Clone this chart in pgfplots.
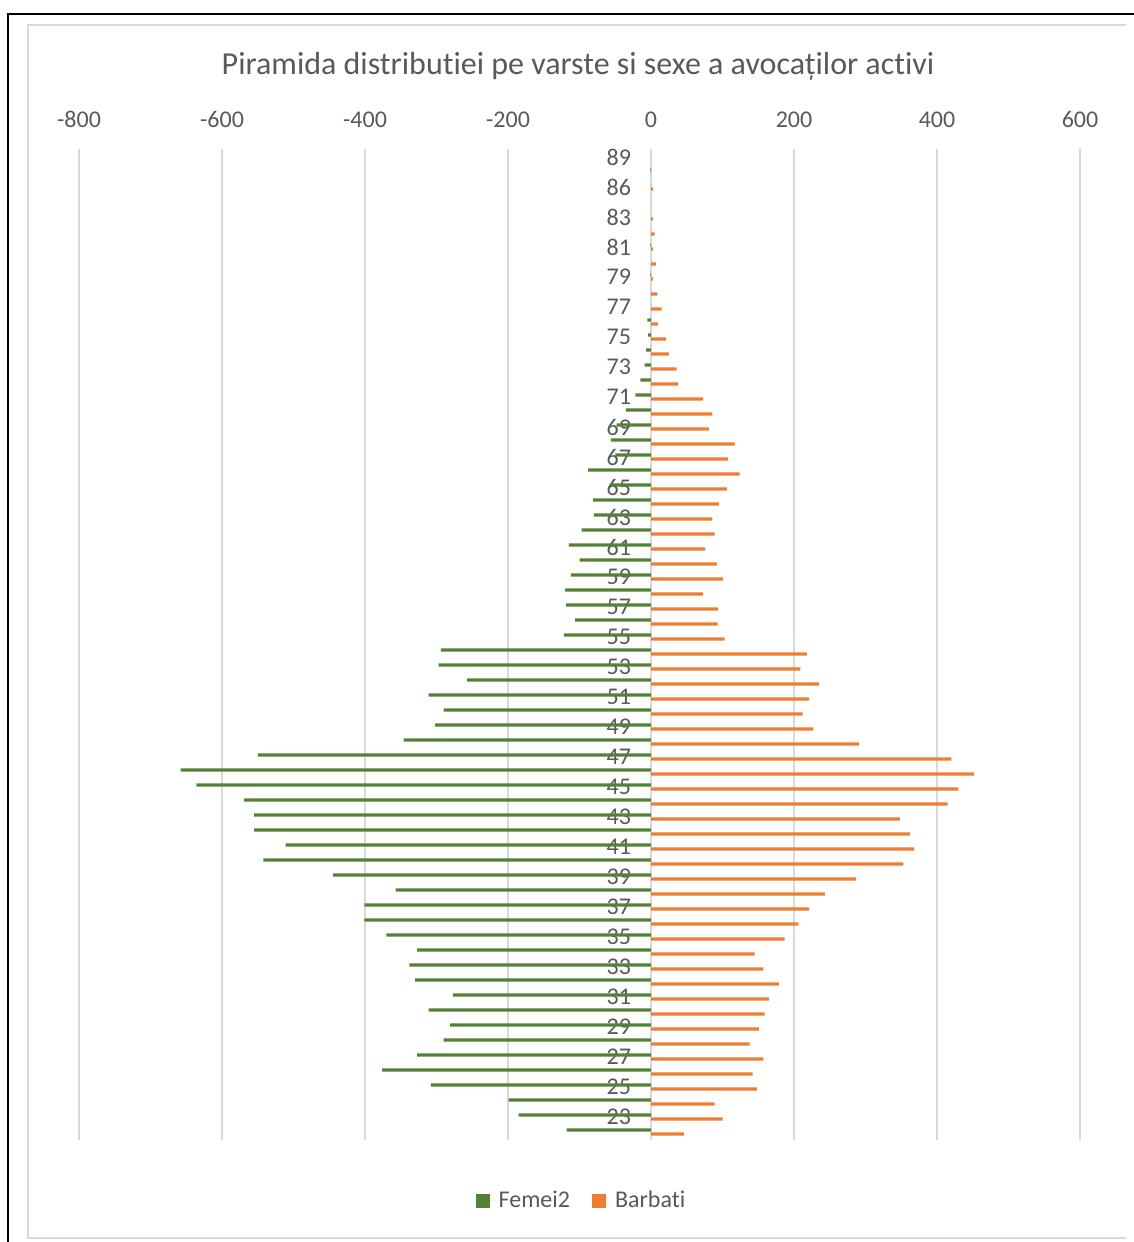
\documentclass[border=0pt]{standalone}
\usepackage{fontspec}
\setmainfont[Ligatures=NoCommon]{Carlito}
\usepackage{pgfplots}
\pgfplotsset{compat=1.18}
\usepackage{pgfplotstable}
\definecolor{fem}{HTML}{548235}
\definecolor{barb}{HTML}{ED7D31}
\definecolor{txt}{HTML}{595959}
\definecolor{grd}{HTML}{D9D9D9}

\pgfplotstableread{
pos age F M
0 22 -118 46
1 23 -185 100
2 24 -199 89
3 25 -308 148
4 26 -376 142
5 27 -327 157
6 28 -290 138
7 29 -281 151
8 30 -311 159
9 31 -277 165
10 32 -330 179
11 33 -338 157
12 34 -327 145
13 35 -370 187
14 36 -401 206
15 37 -401 221
16 38 -357 243
17 39 -445 287
18 40 -542 353
19 41 -511 368
20 42 -555 362
21 43 -555 348
22 44 -569 415
23 45 -636 430
24 46 -658 452
25 47 -550 420
26 48 -346 291
27 49 -302 227
28 50 -290 212
29 51 -311 221
30 52 -257 235
31 53 -297 209
32 54 -294 218
33 55 -122 103
34 56 -106 93
35 57 -119 94
36 58 -120 73
37 59 -112 101
38 60 -100 92
39 61 -115 76
40 62 -97 89
41 63 -80 86
42 64 -81 95
43 65 -55 106
44 66 -88 124
45 67 -50 108
46 68 -56 117
47 69 -48 81
48 70 -35 86
49 71 -22 73
50 72 -15 38
51 73 -9 36
52 74 -7 25
53 75 -4 21
54 76 -5 10
55 77 0 15
56 78 0 9
57 79 -1 3
58 80 0 7
59 81 -1 3
60 82 0 5
61 83 0 3
62 84 0 0
63 86 0 3
64 87 -1 0
65 89 0 0
}\data

\begin{document}
\begin{tikzpicture}
\path[use as bounding box] (0pt,0pt) rectangle (567pt,621pt);
\draw[black, line width=0.8pt] (4pt,0pt) -- (4pt,614pt) -- (567pt,614pt);
\draw[grd, line width=0.75pt] (563pt,608.5pt) -- (14pt,608.5pt) -- (14pt,2pt) -- (563pt,2pt);
\node[anchor=base, font=\fontsize{16}{19}\selectfont, text=txt] at (289pt,583.5pt)
  {Piramida distributiei pe varste si sexe a avocaților activi};
\begin{axis}[
  at={(39.5pt,51.25pt)}, anchor=south west,
  scale only axis, width=500.5pt, height=495pt,
  xmin=-800, xmax=600, ymin=-0.5, ymax=65.5,
  xbar, bar width=1.7pt,
  axis x line*=top, axis y line*=center,
  x axis line style={draw=none},
  y axis line style={grd, line width=0.75pt},
  major tick length=0pt,
  xtick={-800,-600,-400,-200,0,200,400,600},
  xticklabels={-800,-600,-400,-200,0,200,400,600},
  ytick={1,3,...,65},
  yticklabels={23,25,27,29,31,33,35,37,39,41,43,45,47,49,51,53,55,57,59,61,63,65,67,69,71,73,75,77,79,81,83,86,89},
  tick label style={font=\fontsize{12}{14}\selectfont, text=txt},
  xticklabel style={yshift=7.5pt},
  yticklabel style={xshift=-6.5pt},
  xmajorgrids, grid style={grd, line width=0.75pt},
  legend style={at={(0.503,-0.062)}, anchor=center, draw=none, legend columns=2,
    font=\fontsize{12}{14}\selectfont, text=txt,
    /tikz/every even column/.append style={column sep=9pt}},
  legend image code/.code={\fill[#1] (0pt,-3.5pt) rectangle (7pt,3.5pt); \path (0pt,0pt) -- (9.5pt,0pt);},
]
\addplot[fill=fem, draw=none, bar shift=1pt] table[x=F, y=pos] {\data};
\addplot[fill=barb, draw=none, bar shift=-1pt] table[x=M, y=pos] {\data};
\legend{Femei2, Barbati}
\end{axis}
\end{tikzpicture}
\end{document}
